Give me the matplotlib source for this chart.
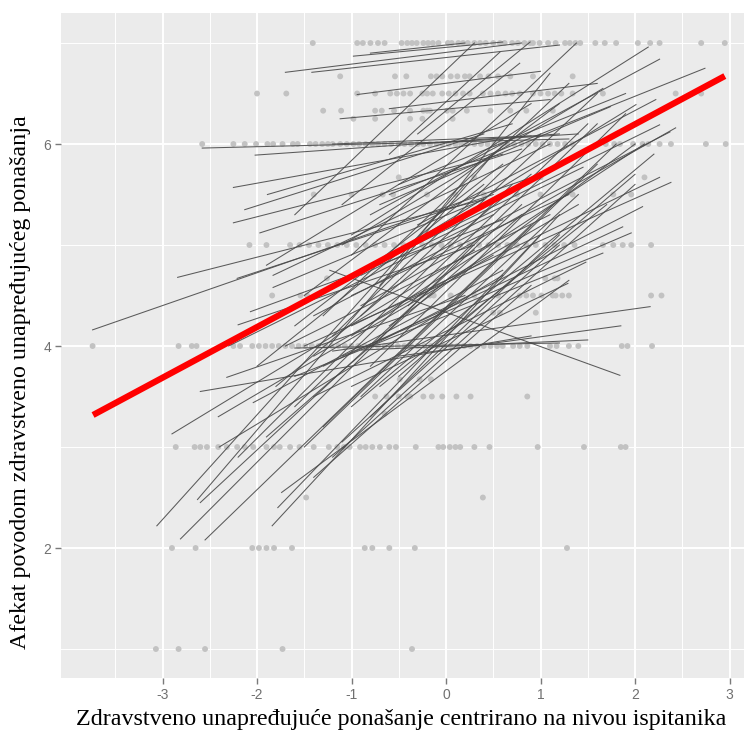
import matplotlib
matplotlib.use("Agg")
import matplotlib.pyplot as plt
import numpy as np

plt.rcParams["axes.unicode_minus"] = False

# observed points, one list of x values per response level
x_at_7 = [-1.41, -0.94, -0.88, -0.80, -0.72, -0.65, -0.47, -0.41, -0.36, -0.31, -0.24, -0.19,
          -0.14, -0.08, 0.02, 0.06, 0.13, 0.18, 0.23, 0.30, 0.36, 0.42, 0.50, 0.57, 0.62, 0.70,
          0.76, 0.83, 0.89, 0.92, 0.99, 1.08, 1.16, 1.26, 1.31, 1.37, 1.42, 1.58, 1.68, 1.80,
          2.03, 2.16, 2.26, 2.70, 2.95]
x_at_6_67 = [-1.12, -0.54, -0.42, -0.16, -0.10, -0.04, 0.05, 0.12, 0.20, 0.25, 0.36, 0.45,
             0.55, 0.68, 0.92, 1.34]
x_at_6_5 = [-2.00, -1.69, -0.94, -0.75, -0.59, -0.52, -0.45, -0.38, -0.25, -0.20, -0.14, -0.04,
            0.03, 0.10, 0.18, 0.25, 0.39, 0.47, 0.55, 0.63, 0.70, 0.78, 0.92, 1.00, 1.08, 1.15,
            1.22, 1.34, 1.66, 2.43, 2.70]
x_at_6_33 = [-1.30, -1.11, -0.75, -0.68, -0.55, -0.38, -0.24, -0.20, -0.17, 0.01, 0.07, 0.22,
             0.47, 0.68, 0.85, 1.13]
x_at_6_25 = [-0.98, -0.75, -0.38, -0.25, 0.07]
x_at_6 = [-2.58, -2.25, -2.13, -2.01, -1.89, -1.83, -1.73, -1.62, -1.57, -1.44, -1.38, -1.31,
          -1.25, -1.20, -1.12, -1.05, -0.98, -0.92, -0.85, -0.78, -0.72, -0.65, -0.58, -0.50,
          -0.44, -0.37, -0.30, -0.24, -0.17, -0.10, -0.04, 0.03, 0.10, 0.16, 0.22, 0.30, 0.37,
          0.44, 0.51, 0.58, 0.65, 0.72, 0.80, 0.87, 0.95, 1.02, 1.10, 1.18, 1.26, 1.34, 1.69,
          1.78, 1.84, 1.98, 2.08, 2.14, 2.26, 2.38, 2.75, 2.96]
x_at_5_67 = [-0.50, 0.30, 1.00, 2.10]
x_at_5_5 = [-1.40, -1.00, -0.67, -0.56, -0.20, 0.10, 0.40, 0.75, 1.00, 1.34, 1.77, 1.96]
x_at_5 = [-2.08, -1.90, -1.65, -1.55, -1.45, -1.35, -1.25, -1.15, -1.05, -0.95, -0.85, -0.75,
          -0.65, -0.55, -0.45, -0.35, -0.25, -0.15, -0.05, 0.05, 0.15, 0.25, 0.35, 0.45, 0.55,
          0.65, 0.75, 0.85, 0.95, 1.05, 1.15, 1.25, 1.36, 1.66, 1.77, 1.87, 1.96, 2.17]
x_at_4_67 = [-1.26, 1.05, 1.15, 1.18]
x_at_4_5 = [-1.84, -1.54, -1.47, -0.26, -0.17, -0.13, 0.05, 0.30, 0.55, 0.78, 0.85, 0.92,
            1.01, 1.13, 1.16, 1.23, 1.30, 2.17, 2.28]
x_at_4_33 = [0.50, 0.57, 0.95]
x_at_4 = [-3.74, -2.83, -2.69, -2.64, -2.25, -2.18, -2.05, -1.98, -1.91, -1.84, -1.77, -1.70,
          -1.63, -1.56, -1.49, -1.42, -1.35, -1.28, -1.21, -1.14, -1.07, -1.00, -0.93, -0.86,
          -0.79, -0.72, -0.65, -0.58, -0.51, -0.44, -0.37, -0.30, -0.23, -0.16, -0.09, -0.02,
          0.05, 0.12, 0.19, 0.26, 0.33, 0.40, 0.47, 0.54, 0.60, 0.71, 0.78, 0.86, 1.10, 1.17,
          1.30, 1.40, 1.86, 1.92, 2.18]
x_at_3_67 = [-0.49, -0.28, -0.16]
x_at_3_5 = [-0.75, -0.63, -0.50, -0.41, -0.38, -0.24, -0.15, -0.04, 0.11, 0.26, 0.86]
x_at_3_33 = [-0.65]
x_at_3 = [-2.86, -2.66, -2.60, -2.53, -2.41, -2.32, -2.21, -2.13, -2.04, -1.90, -1.82, -1.76,
          -1.65, -1.55, -1.40, -1.24, -1.15, -1.08, -1.02, -0.91, -0.85, -0.78, -0.70, -0.60,
          -0.53, -0.32, -0.08, -0.03, 0.04, 0.10, 0.15, 0.30, 0.46, 0.97, 1.46, 1.85, 1.90]
x_at_2_5 = [-1.48, 0.39]
x_at_2 = [-2.90, -2.65, -2.05, -1.98, -1.90, -1.82, -1.63, -0.86, -0.78, -0.60, -0.33, 1.28]
x_at_1 = [-3.07, -2.83, -2.55, -1.73, -0.36]

point_rows = [(7, x_at_7), (6.67, x_at_6_67), (6.5, x_at_6_5), (6.33, x_at_6_33),
              (6.25, x_at_6_25), (6, x_at_6), (5.67, x_at_5_67), (5.5, x_at_5_5), (5, x_at_5),
              (4.67, x_at_4_67), (4.5, x_at_4_5), (4.33, x_at_4_33), (4, x_at_4),
              (3.67, x_at_3_67), (3.5, x_at_3_5), (3.33, x_at_3_33), (3, x_at_3),
              (2.5, x_at_2_5), (2, x_at_2), (1, x_at_1)]

# per-person regression lines: start and end of each segment
line_x0 = [-1.70, -1.42, -0.98, -0.80, -0.94, -1.12, -2.58, -2.02, -0.60, -0.30, -1.20,
           -3.74, -2.84, -2.25, -2.13, -2.25, -1.97, -2.21, -2.07, -1.83, -1.89, -2.20, -1.83,
           -0.60, -0.80, -1.00, -1.60, -1.00, -0.40, -1.20, -0.90, -1.40, -0.30, -0.70, -1.10,
           -1.50, -1.00, -0.80, -1.30, -1.20, -0.50, -1.23, -1.40, -1.00, -1.60, -1.10, -0.90,
           -1.10, -0.60, -0.30, -1.70, -2.60, -2.90, -1.60, -0.90,
           -3.06, -2.81, -2.63, -2.60, -2.55, -2.41, -2.32, -1.84, -1.78, -1.74, -2.04, -1.50,
           -1.30, -1.20, -1.00, -0.90, -1.40, -1.10, -0.70, -0.50, -2.20, -1.60, -1.90, -1.00,
           -0.80, -1.30, -0.40,
           -1.50, -1.20, -0.90, -2.00, -1.80, -0.60, -1.00, -0.70, -2.30, -1.40, -0.80, -1.60,
           -2.40, -0.50, -1.90]
line_y0 = [6.71, 6.71, 6.87, 6.90, 6.49, 6.25, 5.96, 5.89, 6.35, 6.00, 6.00,
           4.16, 4.68, 5.57, 5.35, 5.22, 5.12, 4.67, 4.34, 4.58, 5.50, 4.21, 4.70,
           5.50, 5.30, 5.10, 5.30, 4.90, 5.00, 4.60, 4.40, 4.30, 5.20, 5.40, 5.00,
           4.00, 4.20, 4.00, 3.80, 3.95, 3.90, 4.75, 3.50, 3.60, 3.70, 3.90, 4.70,
           5.40, 5.90, 6.10, 4.00, 3.55, 3.13, 3.98, 3.96,
           2.22, 2.09, 2.48, 2.45, 2.08, 3.30, 3.69, 2.22, 2.40, 2.55, 3.44, 3.00,
           3.20, 2.90, 3.40, 3.50, 2.70, 3.05, 3.60, 3.70, 2.90, 3.40, 3.10, 4.10,
           3.80, 4.30, 4.40,
           4.50, 4.10, 4.30, 3.80, 3.60, 4.20, 4.50, 4.60, 4.00, 3.90, 3.30, 4.20,
           3.00, 5.60, 4.80]
line_x1 = [0.80, 1.20, 0.60, 0.20, 1.00, 1.10, 1.30, 1.20, 1.60, 1.40, 0.90,
           1.00, 0.40, 0.60, 0.40, 0.60, 0.80, 0.50, 0.60, 0.40, 0.70, 0.30, 1.10,
           2.74, 2.26, 2.14, 0.30, 1.38, 2.01, 2.26, 2.43, 2.37, 2.22, 1.74, 1.66,
           2.38, 2.26, 2.08, 1.87, 2.16, 1.85, 1.84, 1.48, 1.29, 1.66, 1.96, 1.45,
           0.78, 0.57, 0.89, 1.10, 0.90, 0.30, 1.20, 1.50,
           0.20, 0.40, 0.50, 0.80, 0.90, 0.50, 0.20, 1.20, 1.00, 1.30, 0.60, 1.60,
           1.80, 2.00, 2.20, 1.40, 0.90, 1.20, 1.70, 2.00, 0.70, 1.50, 0.80, 2.10,
           1.90, 1.30, 1.60,
           1.20, 1.00, 1.60, 0.40, 0.90, 2.00, 1.30, 1.10, 0.50, 1.40, 1.20, 0.60,
           0.60, 1.90, 0.90]
line_y1 = [7.00, 6.98, 7.01, 7.00, 6.72, 6.44, 6.05, 6.10, 6.60, 6.10, 6.08,
           5.70, 5.45, 6.05, 6.10, 5.90, 5.95, 5.50, 5.25, 5.45, 6.20, 5.00, 6.00,
           6.75, 6.84, 6.96, 7.00, 7.00, 6.39, 6.19, 6.16, 6.12, 6.44, 6.37, 6.55,
           5.62, 5.67, 5.38, 5.18, 4.39, 4.20, 3.71, 4.83, 4.62, 4.92, 5.12, 5.77,
           6.80, 6.91, 7.01, 5.30, 4.10, 4.95, 4.03, 4.06,
           5.60, 5.10, 5.90, 5.40, 5.20, 4.90, 4.50, 5.30, 5.10, 4.65, 4.75, 5.80,
           6.00, 5.60, 5.90, 5.50, 4.60, 5.00, 5.40, 5.70, 5.60, 6.20, 5.30, 6.00,
           6.30, 6.60, 6.20,
           6.40, 6.10, 6.50, 5.60, 5.70, 6.00, 5.50, 6.70, 5.30, 5.40, 5.10, 5.80,
           4.70, 6.50, 6.40]

# overall (fixed effect) line
red_x = [-3.735, 2.95]
red_y = [3.317, 6.673]

x_ticks = [-3, -2, -1, 0, 1, 2, 3]
y_ticks = [2, 4, 6]

fig = plt.figure(figsize=(7.46, 7.36), dpi=100)
ax = fig.add_axes([0.0818, 0.0788, 0.9155, 0.9035])
ax.set_facecolor("#ebebeb")

for yv, xs in point_rows:
    ax.scatter(xs, [yv] * len(xs), s=18, color="#c2c2c2", edgecolors="none", zorder=2)

for x0, y0, x1, y1 in zip(line_x0, line_y0, line_x1, line_y1):
    ax.plot([x0, x1], [y0, y1], color="#4a4a4a", lw=0.75, alpha=0.9, zorder=3)

ax.plot(red_x, red_y, color="red", lw=4.5, solid_capstyle="butt", zorder=4)

ax.set_xlim(-4.074, 3.153)
ax.set_ylim(0.713, 7.297)
ax.set_xticks(x_ticks)
ax.set_yticks(y_ticks)
ax.set_xticks([-3.5, -2.5, -1.5, -0.5, 0.5, 1.5, 2.5], minor=True)
ax.set_yticks([1, 3, 5, 7], minor=True)
ax.grid(which="major", color="white", lw=1.4, zorder=0)
ax.grid(which="minor", color="white", lw=0.7, zorder=0)
ax.set_axisbelow(True)
for sp in ax.spines.values():
    sp.set_visible(False)
ax.tick_params(which="major", length=4, width=1, color="#7a7a7a", labelcolor="#707070",
               labelsize=10, pad=3)
ax.tick_params(which="minor", length=0)
for lab in ax.get_xticklabels() + ax.get_yticklabels():
    lab.set_family("Liberation Sans")

ax.set_xlabel("Zdravstveno unapređujuće ponašanje centrirano na nivou ispitanika",
              family="Liberation Serif", fontsize=17.3, va="center")
ax.xaxis.set_label_coords(0.498, -0.063)
ax.set_ylabel("Afekat povodom zdravstveno unapređujućeg ponašanja",
              family="Liberation Serif", fontsize=17.3, va="center")
ax.yaxis.set_label_coords(-0.060, 0.445)

fig.savefig("out.png", dpi=100)
plt.close(fig)
